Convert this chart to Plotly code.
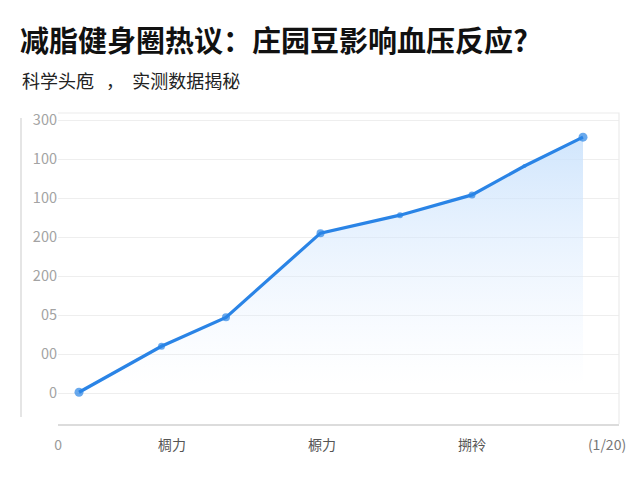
import plotly.graph_objects as go

# values
x_pos = [0.38, 0.93, 1.36, 1.99, 2.52, 3.0, 3.35, 3.74]
bp_values = [1, 60, 97, 205, 228, 254, 291, 328]

x_tick_pos = [0.241, 1, 2, 3, 3.9]
x_tick_text = ["<span style='color:#9a9a9a'>0</span>", "椆力", "榞力", "搠袊",
               "<span style='color:#777'>(1/20)</span>"]

y_tick_pos = [0, 50, 100, 150, 200, 250, 300, 350]
y_tick_text = ["0", "00", "05", "200", "200", "100", "100", "300"]

title = "减脂健身圈热议：庄园豆影响血压反应?"
subtitle = "科学头庖\u00a0\u00a0\u00a0，\u00a0\u00a0实测数据揭秘"

FONT = "Noto Sans CJK SC"
BLUE = "#2a84e6"

fig = go.Figure()
fig.add_trace(go.Scatter(
    x=x_pos, y=bp_values,
    mode="lines+markers",
    line=dict(color=BLUE, width=3.2),
    marker=dict(color=BLUE, size=[9, 7, 8, 8, 6, 7, 4, 9], line=dict(width=0)),
    fill="tozeroy",
    fillgradient=dict(
        type="vertical",
        start=10, stop=330,
        colorscale=[[0, "rgba(225,238,255,0)"], [1, "rgba(200,225,252,0.85)"]],
    ),
    hoverinfo="skip",
    showlegend=False,
))

# page is drawn with an 8px body offset, so margins are shifted by 8
fig.update_layout(
    width=640, height=480,
    margin=dict(l=50, r=29, t=105, b=64),
    paper_bgcolor="white", plot_bgcolor="white",
    font=dict(family=FONT, color="#999999", size=13),
    title=dict(
        text="<b>" + title + "</b>",
        x=12 / 640, xanchor="left",
        y=1 - 34 / 480, yanchor="middle",
        font=dict(family=FONT, size=29, color="#111111"),
    ),
    xaxis=dict(
        range=[0.24, 3.98],
        tickmode="array", tickvals=x_tick_pos, ticktext=x_tick_text,
        showgrid=False, zeroline=False,
        showline=True, linecolor="#dcdcdc", linewidth=1.5,
        ticks="", ticklabelstandoff=7,
        tickfont=dict(color="#555555", size=14),
    ),
    yaxis=dict(
        range=[-39.7, 359],
        tickmode="array", tickvals=y_tick_pos, ticktext=y_tick_text,
        showgrid=True, gridcolor="#eeeeee", gridwidth=1,
        zeroline=False, showline=False, ticks="",
        tickfont=dict(color="#a3a3a3", size=14.5),
    ),
    annotations=[dict(
        text=subtitle, xref="paper", yref="paper",
        x=(20 - 58) / 561, y=(424 - 80) / 311,
        xanchor="left", yanchor="middle", showarrow=False,
        font=dict(family=FONT, size=18, color="#222222"),
    )],
    shapes=[
        # light frame on top and right of plot area
        dict(type="path", xref="paper", yref="paper",
             path="M 0 1 L 1 1 L 1 0", line=dict(color="#ececec", width=1.2)),
        # detached left rule
        dict(type="line", xref="paper", yref="paper",
             x0=(21 - 58) / 561, x1=(21 - 58) / 561,
             y0=(424 - 417) / 311, y1=(424 - 118) / 311,
             line=dict(color="#dddddd", width=1.5)),
    ],
)

fig.write_html("out.html")
